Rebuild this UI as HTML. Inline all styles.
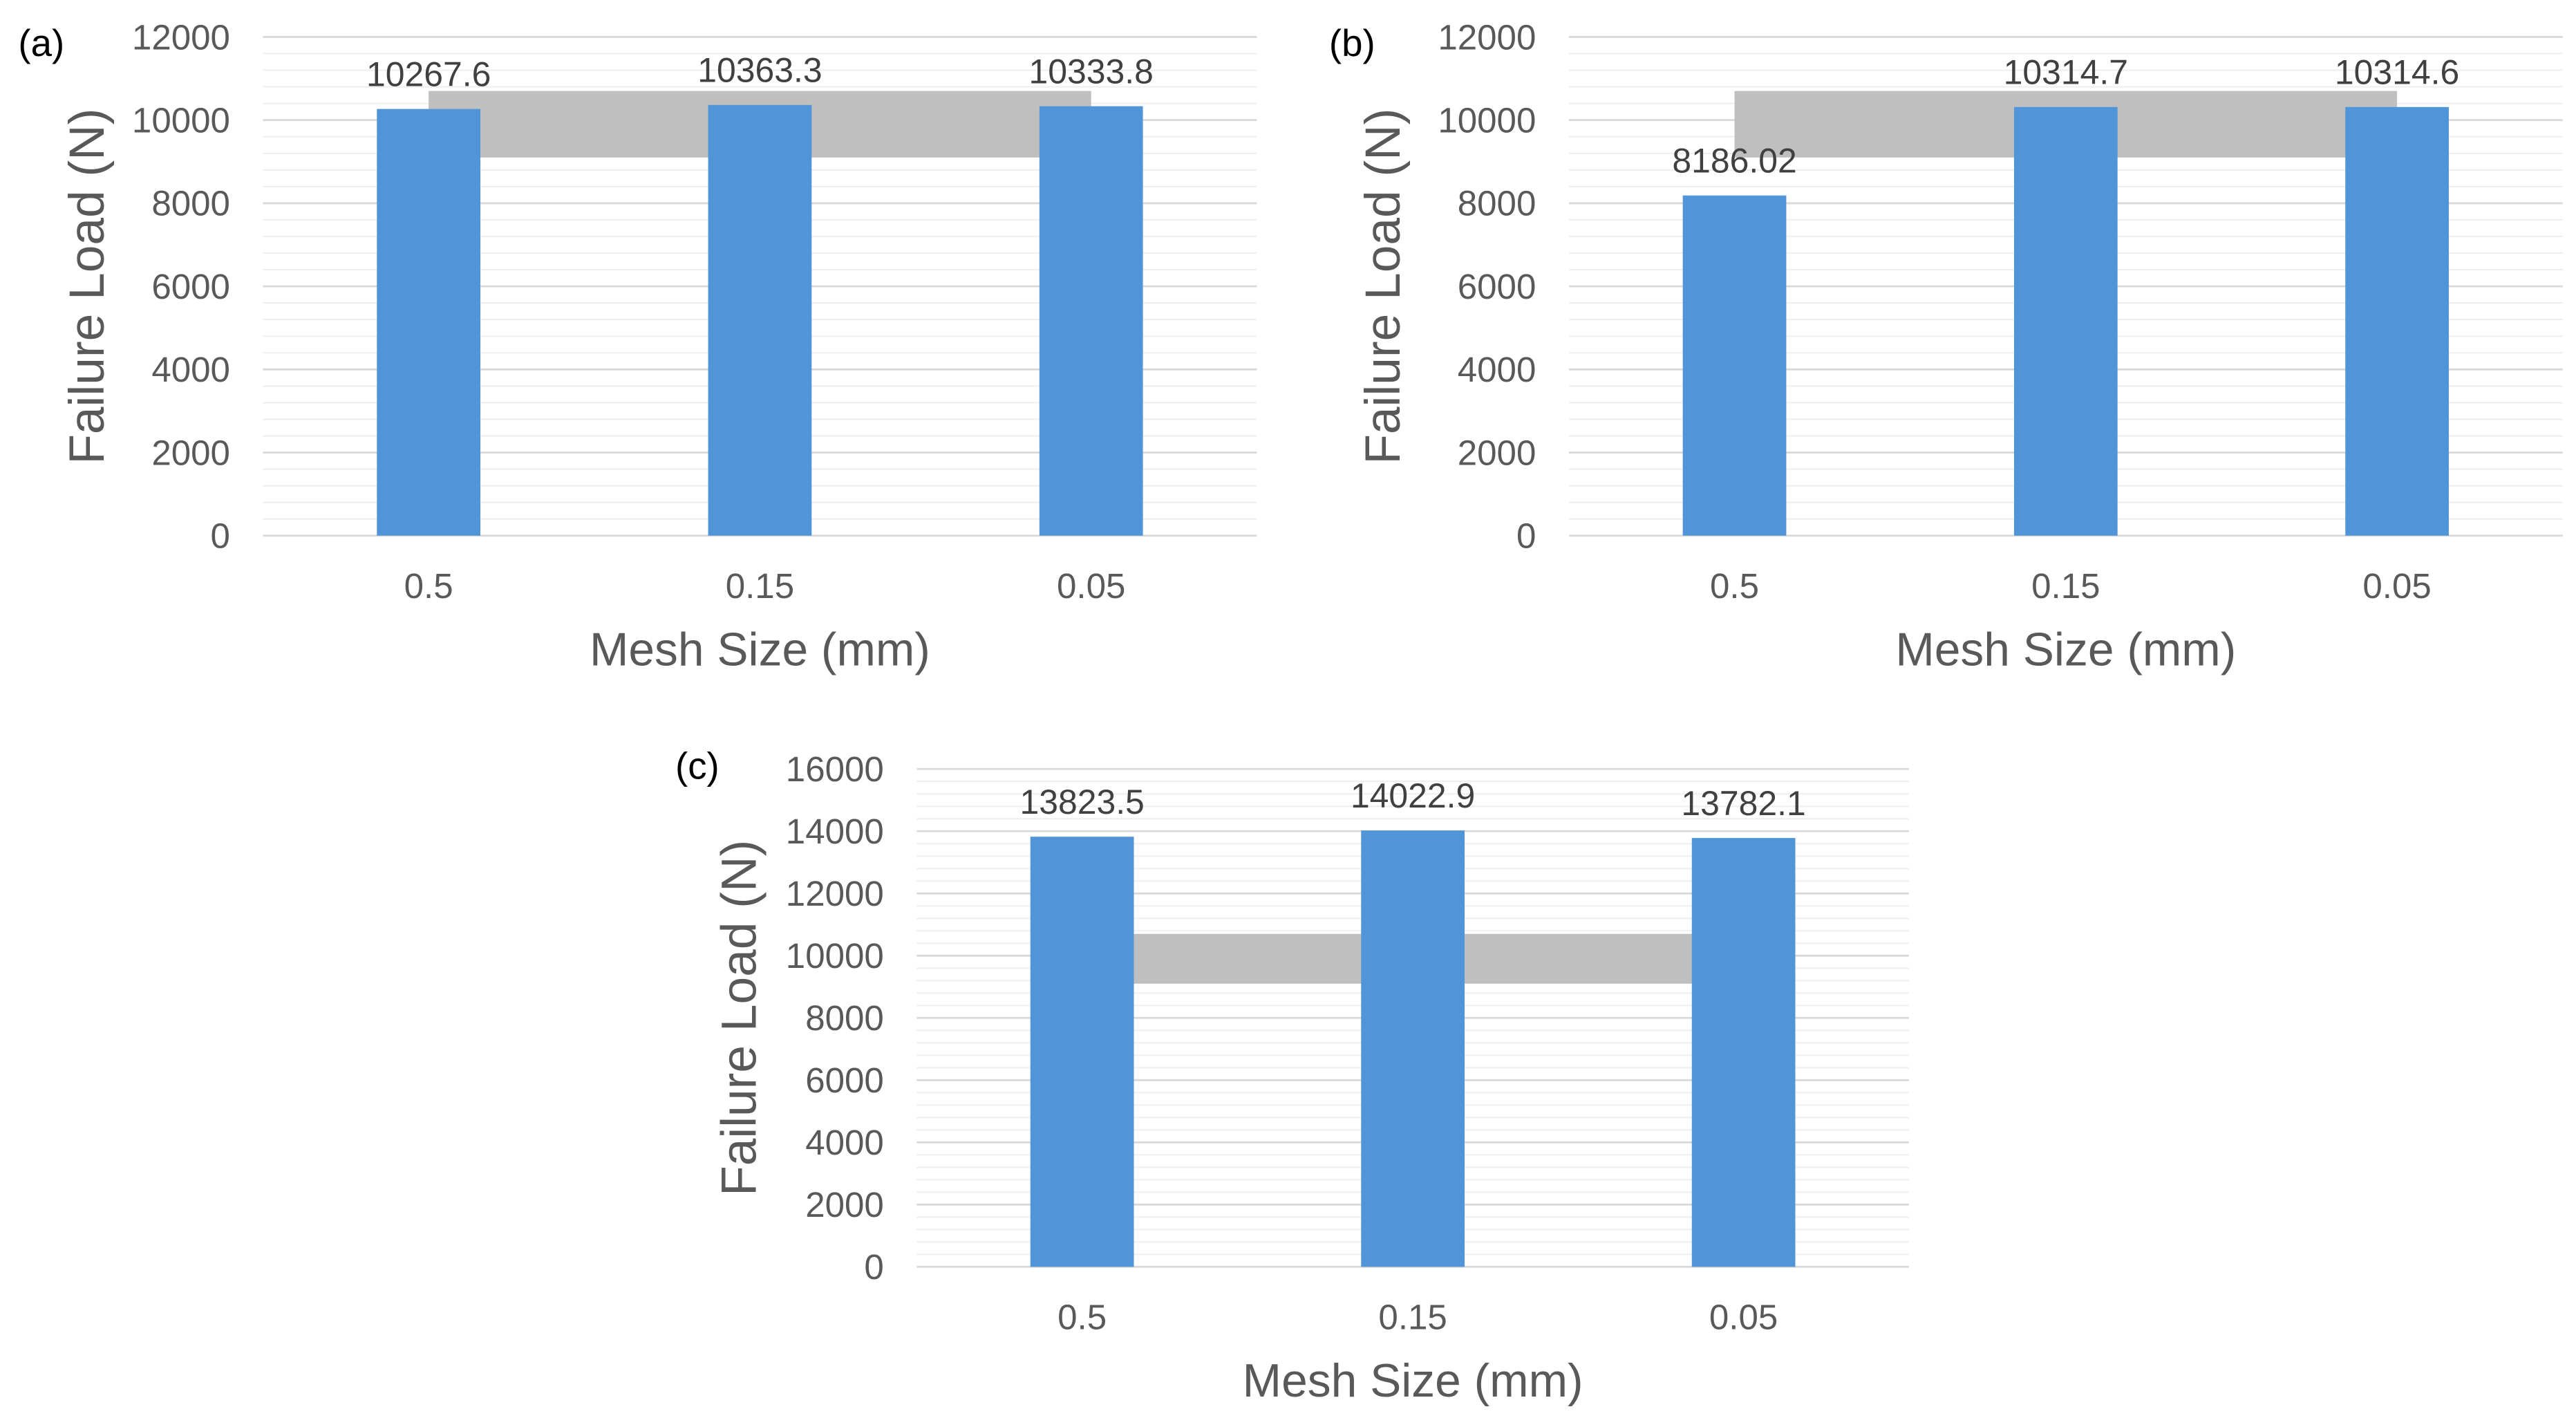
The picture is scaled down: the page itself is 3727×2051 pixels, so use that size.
<!DOCTYPE html>
<html><head><meta charset="utf-8"><style>
html,body{margin:0;padding:0;background:#fff;}
svg{display:block;font-family:"Liberation Sans",Arial,sans-serif;}
</style></head><body>
<svg id="fig" width="3727" height="2051" viewBox="0 0 1568 863" xmlns="http://www.w3.org/2000/svg"></svg>
<script>
const categories = ["0.5", "0.15", "0.05"];
const valuesA = [10267.6, 10363.3, 10333.8];
const labelsA = ["10267.6", "10363.3", "10333.8"];
const valuesB = [8186.02, 10314.7, 10314.6];
const labelsB = ["8186.02", "10314.7", "10314.6"];
const valuesC = [13823.5, 14022.9, 13782.1];
const labelsC = ["13823.5", "14022.9", "13782.1"];
const bandRange = [9100, 10700];
const ticksAB = [0, 2000, 4000, 6000, 8000, 10000, 12000];
const ticksC = [0, 2000, 4000, 6000, 8000, 10000, 12000, 14000, 16000];

const NS = "http://www.w3.org/2000/svg";
const svg = document.getElementById('fig');
function mk(tag, attrs, parent){const e=document.createElementNS(NS,tag);for(const k in attrs)e.setAttribute(k,attrs[k]);(parent||svg).appendChild(e);return e;}

function chart(cfg){
  const g = mk('g',{});
  
  
  const {left,right,y0,yTop,max,vals,labels,ticks} = cfg;
  const y = v => y0 - v/max*(y0-yTop);
  const band = (right-left)/categories.length;
  const xc = i => left + band*(i+0.5);
  for(let v=0; v<=max; v+=400){
    if(v%2000===0) continue;
    const l = mk('line',{x1:left,x2:right,y1:y(v),y2:y(v),stroke:'#f0f0f0','stroke-width':1},g);
    
    
  }
  ticks.forEach(t=>{
    const l = mk('line',{x1:left,x2:right,y1:y(t),y2:y(t),stroke:'#d9d9d9','stroke-width':1.2},g);
    
    
    const tx = mk('text',{x:left-20,y:y(t)+7.5,'text-anchor':'end','font-size':21.5,fill:'#595959'},g);
    tx.textContent = t;
    
    
  });
  const r = mk('rect',{x:xc(0),y:y(bandRange[1]),width:xc(categories.length-1)-xc(0),height:y(bandRange[0])-y(bandRange[1]),fill:'#bfbfbf'},g);
  
  
  const bw = 63;
  vals.forEach((v,i)=>{
    const b = mk('rect',{x:xc(i)-bw/2,y:y(v),width:bw,height:y0-y(v),fill:'#4f95d8'},g);
    
    
    const t = mk('text',{x:xc(i),y:y(v)-14,'text-anchor':'middle','font-size':21,fill:'#404040'},g);
    t.textContent = labels[i];
    
    
    const xl = mk('text',{x:xc(i),y:y0+38,'text-anchor':'middle','font-size':21.5,fill:'#595959'},g);
    xl.textContent = categories[i];
    
    
  });
  const xt = mk('text',{x:(left+right)/2,y:y0+79,'text-anchor':'middle','font-size':28.5,fill:'#595959'},g);
  xt.textContent = 'Mesh Size (mm)';
  
  
  const cy = (y0+yTop)/2;
  const yt = mk('text',{x:cfg.ytx,y:cy,'text-anchor':'middle','font-size':30,fill:'#595959',transform:`rotate(-90 ${cfg.ytx} ${cy})`},g);
  yt.textContent = 'Failure Load (N)';
  
  
  const pl = mk('text',{x:cfg.px,y:cfg.py,'font-size':23,fill:'#000'},g);
  pl.textContent = '('+cfg.id+')';
  
  
}
chart({id:'a',left:160,right:765,y0:326,yTop:22.5,max:12000,vals:valuesA,labels:labelsA,ticks:ticksAB,ytx:63,px:11,py:34});
chart({id:'b',left:955,right:1560,y0:326,yTop:22.5,max:12000,vals:valuesB,labels:labelsB,ticks:ticksAB,ytx:852,px:809,py:34});
chart({id:'c',left:558,right:1162,y0:771,yTop:468,max:16000,vals:valuesC,labels:labelsC,ticks:ticksC,ytx:460,px:411,py:474});
</script>
</body></html>
